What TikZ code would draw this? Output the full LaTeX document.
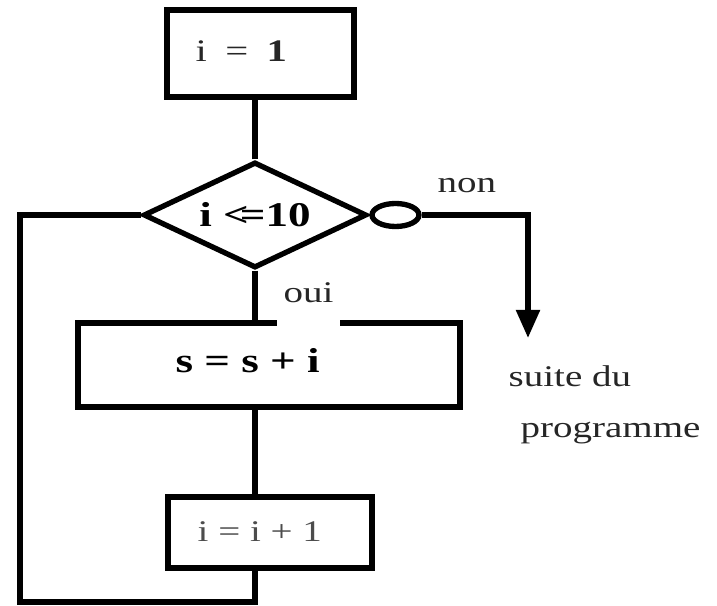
\documentclass[tikz,border=0pt]{standalone}
\usepackage{graphicx}
\usepackage{fontspec}
\setmainfont{Liberation Serif}
\usetikzlibrary{shapes.geometric,arrows.meta}
\newcommand{\sx}[1]{\scalebox{1.3}[1]{#1}}
\begin{document}
\begin{tikzpicture}[x=0.3pt,y=-0.3pt,
  line/.style={line width=1.6pt},
  box/.style={draw, line width=1.6pt, rectangle, inner sep=0},
  txt/.style={inner sep=0, anchor=base west},
  lbl/.style={txt, font=\fontsize{9}{10}\selectfont, text=black!85}]
\useasboundingbox (0,0) rectangle (717,606);
% boxes
\node[box, minimum width=56.1pt, minimum height=26.1pt] (init) at (260.5,53.5) {};
\node[txt, font=\fontsize{9.4}{11}\selectfont, text=black!85] (tinit) at (195,62) {\sx{i\hspace{0.45em}=\hspace{0.45em}\textbf{1}}};
\node[draw, diamond, aspect=2, inner sep=0, line width=1.6pt, minimum width=67pt, minimum height=31.8pt,
      font=\bfseries\fontsize{10.4}{12}\selectfont] (test) at (255,215) {\sx{i <\kern-0.2em=10}};
\node[draw, ellipse, line width=1.6pt, minimum width=14.1pt, minimum height=6.9pt, inner sep=0, anchor=west] (no) at (test.east) {};
\node[box, minimum width=114.6pt, minimum height=25.2pt] (sum) at (269,365) {};
\node[txt, font=\bfseries\fontsize{10.4}{12}\selectfont] (tsum) at (175,373) {\sx{s = s + i}};
\node[box, minimum width=61.2pt, minimum height=21.3pt] (inc) at (270,532.5) {};
\node[txt, font=\fontsize{9}{10}\selectfont, text=black!70] (tinc) at (197,542) {\sx{i = i + 1}};
% connectors
\coordinate (bl) at (20,602);
\coordinate (out) at (528,338);
\draw[line] (test.north) -- (test.north |- init.south);
\draw[line] (test.south) -- (test.south |- sum.north);
\fill[white] (277,319) rectangle (340,327);
\draw[line] (test.south |- sum.south) -- (test.south |- inc.north);
\draw[line] (test.south |- inc.south) -- (test.south |- bl) -- (bl) |- (test.west);
\draw[line, -{Triangle[width=6.9pt,length=8.4pt]}] (no.east) -| (out);
% labels
\node[lbl] (non) at (437,193) {\sx{non}};
\node[lbl] (oui) at (283,303) {\sx{oui}};
\node[lbl] (suite) at (508,387) {\sx{suite du}};
\node[lbl] (prog) at (520,438) {\sx{programme}};
\end{tikzpicture}
\end{document}
